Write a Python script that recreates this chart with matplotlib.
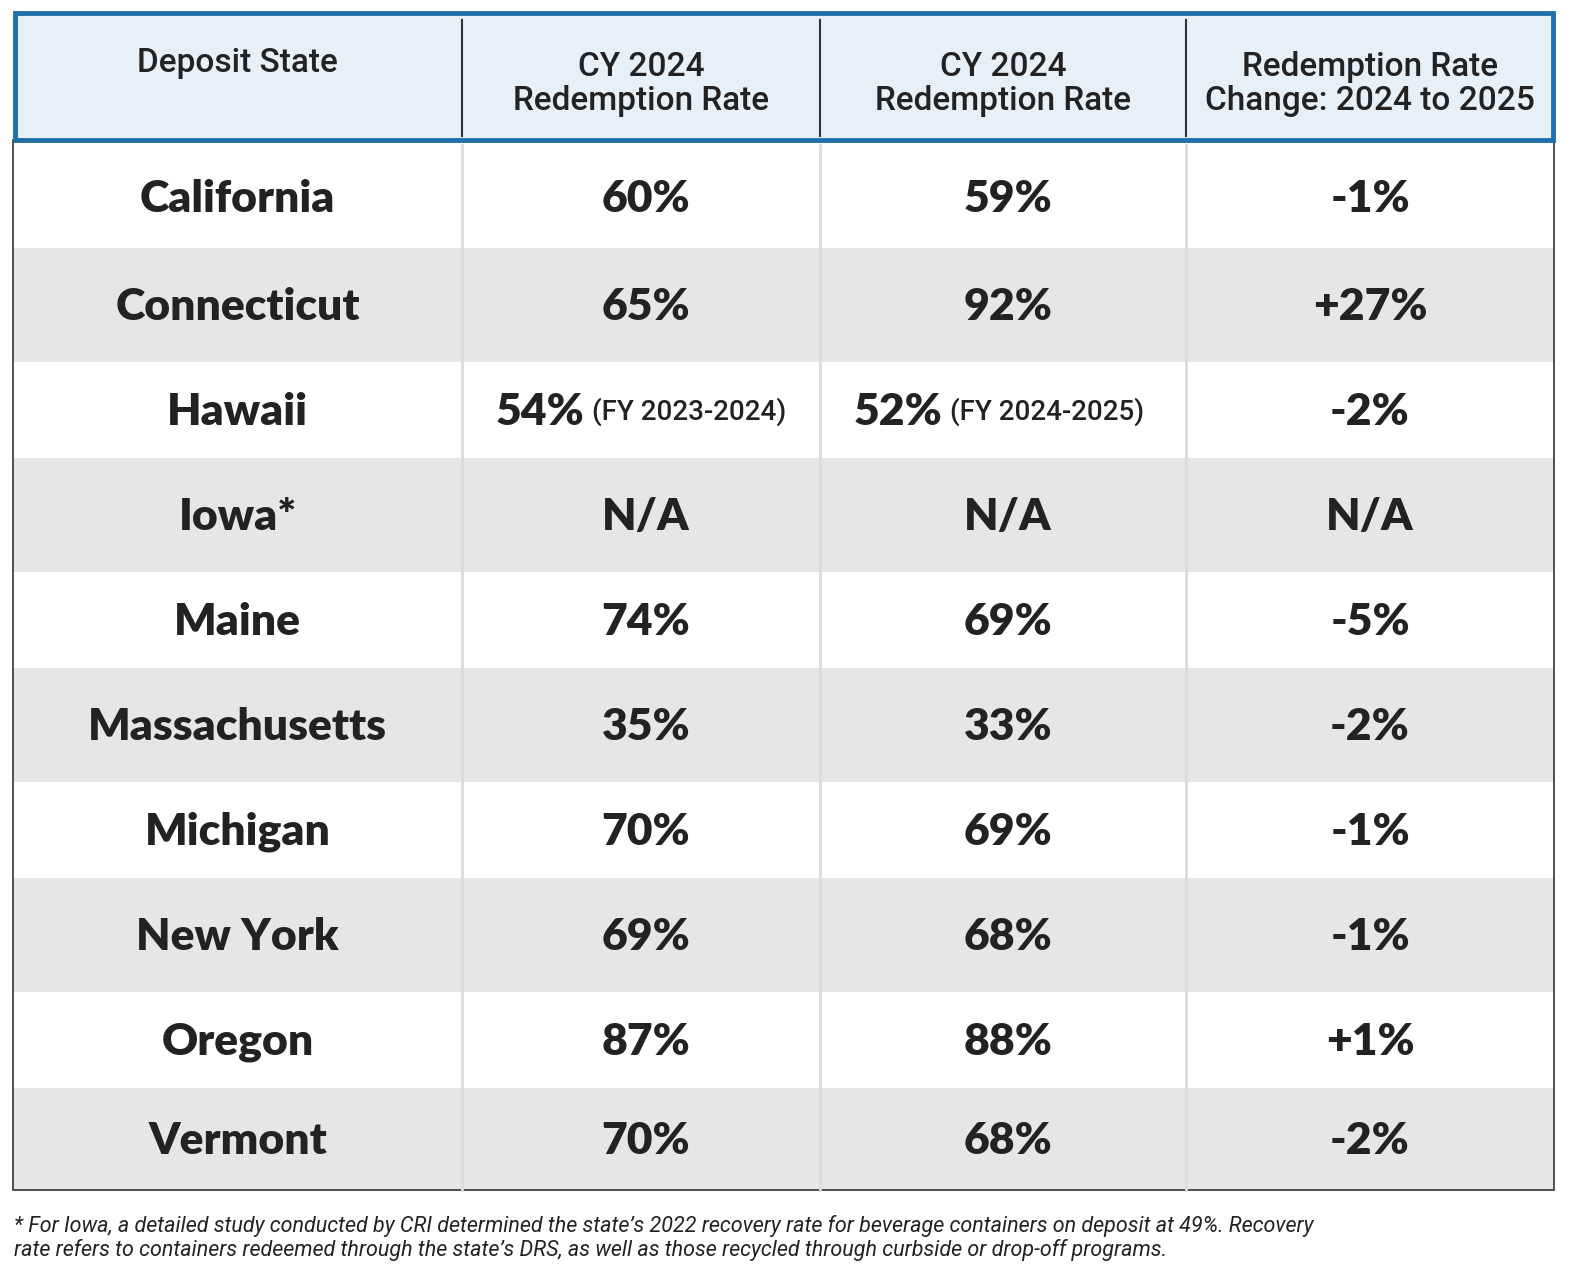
import matplotlib.pyplot as plt
from matplotlib.patches import Rectangle

states = ["California", "Connecticut", "Hawaii", "Iowa*", "Maine", "Massachusetts",
          "Michigan", "New York", "Oregon", "Vermont"]
rate_a = ["60%", "65%", "54%", "N/A", "74%", "35%", "70%", "69%", "87%", "70%"]
rate_b = ["59%", "92%", "52%", "N/A", "69%", "33%", "69%", "68%", "88%", "68%"]
change = ["-1%", "+27%", "-2%", "N/A", "-5%", "-2%", "-1%", "-1%", "+1%", "-2%"]
note_a = {2: "(FY 2023-2024)"}
note_b = {2: "(FY 2024-2025)"}
headers = ["Deposit State", "CY 2024\nRedemption Rate", "CY 2024\nRedemption Rate",
           "Redemption Rate\nChange: 2024 to 2025"]
footnote = ("* For Iowa, a detailed study conducted by CRI determined the state\u2019s 2022 recovery rate for beverage containers on deposit at 49%. Recovery\n"
            "rate refers to containers redeemed through the state\u2019s DRS, as well as those recycled through curbside or drop-off programs.")

W, H = 1572, 1286
fig = plt.figure(figsize=(W / 100, H / 100), dpi=100)
ax = fig.add_axes([0, 0, 1, 1])
ax.set_xlim(0, W)
ax.set_ylim(H, 0)
ax.axis("off")

narrow = ["Roboto", "DejaVu Sans"]
bold = ["Lato", "DejaVu Sans"]
dark = "#222222"

col_x = [13, 462, 820, 1186, 1554]
row_y = [145, 248, 362, 458, 572, 668, 782, 878, 992, 1088, 1190]

# body rows
for i in range(len(states)):
    fc = "white" if i % 2 == 0 else "#e6e6e8"
    ax.add_patch(Rectangle((col_x[0], row_y[i]), col_x[-1] - col_x[0], row_y[i + 1] - row_y[i],
                           fc=fc, ec="none"))
for x in col_x[1:-1]:
    ax.plot([x, x], [row_y[0], row_y[-1]], color="#dcdcdc", lw=2)
ax.add_patch(Rectangle((col_x[0], 140), col_x[-1] - col_x[0], row_y[-1] - 140,
                       fc="none", ec="#333333", lw=1.2))

# header
ax.add_patch(Rectangle((15, 13), 1538, 127, fc="#e7eff7", ec="#1f70a8", lw=3.5))
for x in col_x[1:-1]:
    ax.plot([x, x], [20, 136], color="#333333", lw=1.5)
for j, h in enumerate(headers):
    cx = (col_x[j] + col_x[j + 1]) / 2
    cy = 63 if j == 0 else 84
    ax.text(cx, cy, h, ha="center", va="center", family=narrow, fontsize=24,
            fontweight="medium", color=dark, linespacing=1.05)

for i, s in enumerate(states):
    cy = (row_y[i] + row_y[i + 1]) / 2 + 2
    ax.text((col_x[0] + col_x[1]) / 2, cy, s, ha="center", va="center",
            family=bold, fontweight="heavy", fontsize=32, color=dark)
    for j, (vals, notes) in enumerate([(rate_a, note_a), (rate_b, note_b)]):
        left = col_x[j + 1]
        if i in notes:
            ax.text(left + 122, cy, vals[i], ha="right", va="center",
                    family=bold, fontweight="heavy", fontsize=32, color=dark)
            ax.text(left + 130, cy, notes[i], ha="left", va="center",
                    family=narrow, fontweight="medium", fontsize=20, color=dark)
        else:
            ax.text((left + col_x[j + 2]) / 2 + 5, cy, vals[i], ha="center", va="center",
                    family=bold, fontweight="heavy", fontsize=32, color=dark)
    ax.text((col_x[3] + col_x[4]) / 2, cy, change[i], ha="center", va="center",
            family=bold, fontweight="heavy", fontsize=32, color=dark)

ax.text(14, 1238, footnote, ha="left", va="center", family=narrow, style="italic",
        fontsize=15.5, color=dark, linespacing=1.15)

fig.savefig("out.png", dpi=100)
